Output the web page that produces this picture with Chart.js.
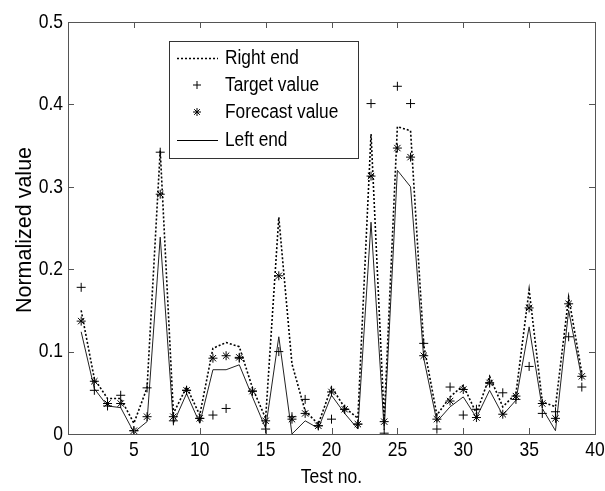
<!DOCTYPE html>
<html>
<head>
<meta charset="utf-8">
<script src="https://cdn.jsdelivr.net/npm/chart.js@4.4.1/dist/chart.umd.min.js"></script>
<style>
  html, body { margin: 0; padding: 0; background: #fff; }
  #wrap { width: 605px; height: 491px; }
</style>
</head>
<body>
<div id="wrap"><canvas id="chart" width="605" height="491"></canvas></div>
<script>
// test numbers and the four series
var testNo = [1, 2, 3, 4, 5, 6, 7, 8, 9, 10, 11, 12, 13, 14, 15, 16, 17, 18, 19, 20,
  21, 22, 23, 24, 25, 26, 27, 28, 29, 30, 31, 32, 33, 34, 35, 36, 37, 38, 39];
var rightEnd = [0.150, 0.067, 0.043, 0.043, 0.013, 0.056, 0.344, 0.025, 0.057, 0.023,
  0.104, 0.111, 0.106, 0.056, 0.019, 0.263, 0.085, 0.028, 0.012, 0.057,
  0.032, 0.019, 0.364, 0.018, 0.373, 0.368, 0.108, 0.023, 0.045, 0.059,
  0.025, 0.070, 0.033, 0.049, 0.175, 0.039, 0.033, 0.166, 0.074];
var targetValue = [0.178, 0.053, 0.034, 0.047, 0.004, 0.056, 0.342, 0.016, 0.053, 0.019,
  0.023, 0.031, 0.092, 0.052, 0.006, 0.100, 0.021, 0.042, 0.010, 0.018,
  0.030, 0.012, 0.401, 0.001, 0.422, 0.401, 0.110, 0.006, 0.057, 0.023,
  0.030, 0.062, 0.050, 0.042, 0.082, 0.025, 0.027, 0.118, 0.057];
var forecastValue = [0.137, 0.064, 0.037, 0.037, 0.004, 0.021, 0.291, 0.021, 0.053, 0.019,
  0.092, 0.095, 0.093, 0.052, 0.016, 0.192, 0.018, 0.025, 0.010, 0.051,
  0.030, 0.012, 0.313, 0.015, 0.347, 0.336, 0.095, 0.018, 0.040, 0.054,
  0.020, 0.062, 0.024, 0.046, 0.153, 0.037, 0.019, 0.158, 0.070];
var leftEnd = [0.124, 0.055, 0.034, 0.032, 0.002, 0.015, 0.239, 0.013, 0.049, 0.013,
  0.078, 0.078, 0.084, 0.045, 0.007, 0.118, 0.000, 0.016, 0.007, 0.047,
  0.025, 0.006, 0.257, 0.005, 0.320, 0.300, 0.092, 0.015, 0.033, 0.045,
  0.020, 0.053, 0.023, 0.041, 0.130, 0.031, 0.004, 0.150, 0.067];
var xTicks = [0, 5, 10, 15, 20, 25, 30, 35, 40];
var yTicks = [0, 0.1, 0.2, 0.3, 0.4, 0.5];
var xTitle = 'Test no.';
var yTitle = 'Normalized value';

var FONT = "'Liberation Sans', Arial, sans-serif";
var STRETCH = 1.2; // the source figure's text is taller than wide

function pts(arr) {
  return testNo.map(function (n, i) { return { x: n, y: arr[i] }; });
}

// text drawn a bit taller than normal, like the source picture
function tallText(c, txt, x, y, size, align) {
  c.save();
  c.translate(x, y);
  c.scale(1, STRETCH);
  c.font = size + 'px ' + FONT;
  c.textAlign = align;
  c.textBaseline = 'middle';
  c.fillText(txt, 0, 0);
  c.restore();
}

// box, inward ticks on all sides, labels, legend inside the plot
var matlabBox = {
  id: 'matlabBox',
  afterDraw: function (chart) {
    var c = chart.ctx, a = chart.chartArea;
    var xs = chart.scales.x, ys = chart.scales.y;
    c.save();
    c.strokeStyle = '#555';
    c.lineWidth = 1;
    c.strokeRect(a.left + 0.5, a.top + 0.5, a.right - a.left, a.bottom - a.top);
    c.beginPath();
    xTicks.forEach(function (v) {
      var px = Math.round(xs.getPixelForValue(v)) + 0.5;
      c.moveTo(px, a.bottom); c.lineTo(px, a.bottom - 6);
      c.moveTo(px, a.top); c.lineTo(px, a.top + 6);
    });
    yTicks.forEach(function (v) {
      var py = Math.round(ys.getPixelForValue(v)) + 0.5;
      c.moveTo(a.left, py); c.lineTo(a.left + 6, py);
      c.moveTo(a.right, py); c.lineTo(a.right - 6, py);
    });
    c.stroke();

    c.fillStyle = '#000';
    xTicks.forEach(function (v) {
      tallText(c, String(v), xs.getPixelForValue(v), a.bottom + 16, 17.5, 'center');
    });
    yTicks.forEach(function (v) {
      tallText(c, String(v), a.left - 5, ys.getPixelForValue(v), 17.5, 'right');
    });
    tallText(c, xTitle, (a.left + a.right) / 2, a.bottom + 43, 17.5, 'center');

    c.save();
    c.translate(25, (a.top + a.bottom) / 2 + 2);
    c.rotate(-Math.PI / 2);
    c.font = '21.5px ' + FONT;
    c.textAlign = 'center';
    c.textBaseline = 'middle';
    c.fillText(yTitle, 0, 0);
    c.restore();

    // legend
    var lx = 169, ly = 41, lw = 189, lh = 117;
    c.fillStyle = '#fff';
    c.fillRect(lx, ly, lw, lh);
    c.strokeStyle = '#333';
    c.strokeRect(lx + 0.5, ly + 0.5, lw, lh);
    var rows = [58, 85, 112, 140];
    chart.data.datasets.forEach(function (d, i) {
      var y = rows[i];
      c.strokeStyle = '#000';
      c.lineWidth = 1;
      if (d.showLine !== false) {
        c.setLineDash(d.borderDash || []);
        c.lineWidth = d.borderWidth;
        c.beginPath();
        c.moveTo(177, y + 0.5); c.lineTo(218, y + 0.5);
        c.stroke();
        c.setLineDash([]);
      } else {
        Chart.helpers.drawPoint(c, { pointStyle: d.pointStyle, radius: 4, borderWidth: 1 }, 197, y);
      }
      c.fillStyle = '#000';
      tallText(c, d.label, 225, y, 17.3, 'left');
    });
    c.restore();
  }
};

new Chart(document.getElementById('chart'), {
  type: 'scatter',
  data: {
    datasets: [{
      label: 'Right end',
      data: pts(rightEnd),
      showLine: true,
      borderColor: '#000',
      borderWidth: 1.6,
      borderDash: [2, 2],
      pointRadius: 0,
      fill: false
    }, {
      label: 'Target value',
      data: pts(targetValue),
      showLine: false,
      pointStyle: 'cross',
      pointRadius: 4.5,
      borderColor: '#000',
      pointBorderWidth: 1
    }, {
      label: 'Forecast value',
      data: pts(forecastValue),
      showLine: false,
      pointStyle: 'star',
      pointRadius: 4.5,
      borderColor: '#000',
      pointBorderWidth: 1
    }, {
      label: 'Left end',
      data: pts(leftEnd),
      showLine: true,
      borderColor: '#222',
      borderWidth: 1,
      pointRadius: 0,
      fill: false
    }]
  },
  options: {
    responsive: false,
    animation: false,
    layout: { padding: { top: 22, right: 10, left: 0, bottom: 0 } },
    plugins: { legend: { display: false }, tooltip: { enabled: false } },
    scales: {
      x: {
        type: 'linear', min: 0, max: 40,
        afterBuildTicks: function (s) { s.ticks = xTicks.map(function (v) { return { value: v }; }); },
        afterFit: function (s) { s.height = 57; },
        grid: { display: false },
        border: { display: false },
        ticks: { display: false }
      },
      y: {
        type: 'linear', min: 0, max: 0.5,
        afterBuildTicks: function (s) { s.ticks = yTicks.map(function (v) { return { value: v }; }); },
        afterFit: function (s) { s.width = 68; },
        grid: { display: false },
        border: { display: false },
        ticks: { display: false }
      }
    }
  },
  plugins: [matlabBox]
});
</script>
</body>
</html>
